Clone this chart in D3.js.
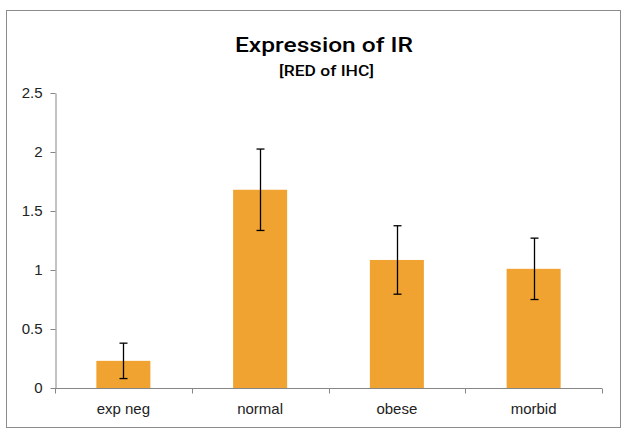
<!DOCTYPE html>
<html><head><meta charset="utf-8">
<script src="https://cdn.jsdelivr.net/npm/d3@7"></script>
<style>
html,body{margin:0;padding:0;background:#fff;}
svg{display:block;}
</style></head>
<body>
<svg id="chart" width="631" height="439"></svg>
<script>
const categories = ["exp neg", "normal", "obese", "morbid"];
const values = [0.23, 1.68, 1.085, 1.01];
const errors = [0.15, 0.345, 0.29, 0.26];
const yTicks = [0, 0.5, 1, 1.5, 2, 2.5];
const yTickLabels = ["0", "0.5", "1", "1.5", "2", "2.5"];
const title = "Expression of IR";
const subtitle = "[RED of IHC]";

const svg = d3.select("#chart");
const plotLeft = 55, plotRight = 602, plotTop = 93, plotBottom = 388;

svg.append("rect").attr("x", 6.5).attr("y", 10.5).attr("width", 614).attr("height", 417)
  .attr("fill", "#fff").attr("stroke", "#8c8c8c").attr("stroke-width", 1);

const x = d3.scaleBand().domain(categories).range([plotLeft, plotRight]).padding(0);
const y = d3.scaleLinear().domain([0, 2.5]).range([plotBottom, plotTop]);

const font = "'Liberation Sans', Arial, sans-serif";

// y axis
const yAxis = svg.append("g").attr("transform", `translate(${plotLeft + 0.5},0)`)
  .call(d3.axisLeft(y).tickValues(yTicks).tickFormat((d, i) => yTickLabels[i]).tickSizeOuter(0).tickSizeInner(5).tickPadding(8));
yAxis.select(".domain").attr("stroke", "#868686");
yAxis.selectAll(".tick line").attr("stroke", "#868686");
yAxis.selectAll("text").attr("fill", "#222").style("font-family", font).style("font-size", "15px");

// bars
const bw = x.bandwidth() * 0.395;
svg.append("g").selectAll("rect").data(categories).join("rect")
  .attr("x", d => x(d) + x.bandwidth() / 2 - bw / 2)
  .attr("y", (d, i) => y(values[i]))
  .attr("width", bw)
  .attr("height", (d, i) => y(0) - y(values[i]))
  .attr("fill", "#F0A330");

// x axis
const xAxisG = svg.append("g").attr("transform", `translate(0,${plotBottom + 0.5})`);
xAxisG.append("line").attr("x1", plotLeft).attr("x2", plotRight).attr("stroke", "#868686");
const bounds = categories.map(c => x(c)).concat([plotRight]);
xAxisG.selectAll("line.t").data(bounds).join("line").attr("class", "t")
  .attr("x1", d => Math.round(d) + 0.5).attr("x2", d => Math.round(d) + 0.5)
  .attr("y1", 0).attr("y2", 5).attr("stroke", "#868686");
xAxisG.selectAll("text").data(categories).join("text")
  .attr("x", d => x(d) + x.bandwidth() / 2).attr("y", 25)
  .attr("text-anchor", "middle").attr("fill", "#222")
  .style("font-family", font).style("font-size", "15px").text(d => d);

// error bars
const eg = svg.append("g").attr("stroke", "#000").attr("stroke-width", 1.3);
categories.forEach((c, i) => {
  const cx = Math.round(x(c) + x.bandwidth() / 2) + 0.5;
  const hi = y(values[i] + errors[i]), lo = y(values[i] - errors[i]);
  eg.append("line").attr("x1", cx).attr("x2", cx).attr("y1", hi).attr("y2", lo);
  eg.append("line").attr("x1", cx - 4).attr("x2", cx + 4).attr("y1", hi).attr("y2", hi);
  eg.append("line").attr("x1", cx - 4).attr("x2", cx + 4).attr("y1", lo).attr("y2", lo);
});

// titles
svg.append("text").attr("x", 235).attr("y", 52)
  .attr("textLength", 178).attr("lengthAdjust", "spacingAndGlyphs")
  .style("font-family", "Roboto, sans-serif").style("font-weight", 500).style("font-size", "21px")
  .attr("fill", "#000").text(title);
svg.append("text").attr("x", 279).attr("y", 76)
  .attr("textLength", 95).attr("lengthAdjust", "spacingAndGlyphs")
  .style("font-family", "Roboto, sans-serif").style("font-weight", 500).style("font-size", "15.5px")
  .attr("fill", "#000").text(subtitle);
</script>
</body></html>
